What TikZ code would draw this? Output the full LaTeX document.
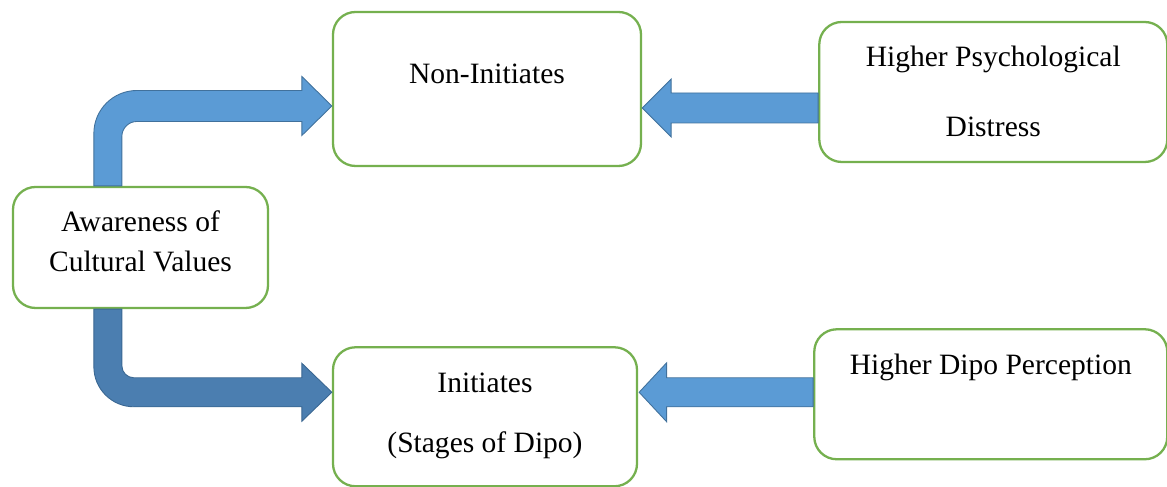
\documentclass[tikz,border=0pt]{standalone}
\usepackage{fontspec}
\setmainfont{Liberation Serif}
\usepackage{xcolor}
\usetikzlibrary{positioning}
\usetikzlibrary{arrows,calc}

\definecolor{boxgreen}{HTML}{75B04F}
\definecolor{arrowblue}{HTML}{5B9BD5}
\definecolor{arrowedge}{HTML}{41719C}
\definecolor{darkblue}{HTML}{4B7EB0}
\definecolor{darkedge}{HTML}{3A6792}

\begin{document}
\begin{tikzpicture}[
auto,
node distance = 3.5cm,
>=stealth',
box/.style={rectangle, rounded corners=0.45cm, draw=boxgreen, line width=1.3pt,
  fill=white, align=center, inner ysep=0.1cm, font=\fontsize{16.8}{20}\selectfont},
fatarrow/.style={fill=arrowblue, draw=arrowedge, line width=0.5pt},
darkarrow/.style={fill=darkblue, draw=darkedge, line width=0.5pt}]
\useasboundingbox (0,0) rectangle (23.34,9.74);

\node [box, minimum width=5.1cm, minimum height=2.42cm, text height=1.28cm, text depth=0.3cm] (aware) at (2.81,4.79)
  {Awareness of\\[0.1cm]Cultural Values};
\node [box, minimum width=6.16cm, minimum height=3.08cm, text height=0.6cm, text depth=0.8cm] (non) at (9.74,7.96)
  {Non-Initiates};
\node [box, minimum width=6.96cm, minimum height=2.8cm, text height=2.1cm, text depth=0.3cm] (distress) [right=3.52cm of non, yshift=-0.06cm]
  {Higher Psychological\\[0.7cm]Distress};
\node [box, minimum width=6.08cm, minimum height=2.78cm, text height=1.72cm, text depth=0.3cm] (init) [below=3.58cm of non, xshift=-0.04cm]
  {Initiates\\[0.5cm](Stages of Dipo)};
\node [box, minimum width=7.06cm, minimum height=2.6cm, text height=0.6cm, text depth=1.4cm] (dipo) [right=3.5cm of init, yshift=0.45cm]
  {Higher Dipo Perception};

% tips of the block arrows
\coordinate (tnon) at ($(non.west)+(0,-0.34)$);
\coordinate (tinit) at ($(init.west)+(0,0.49)$);
\coordinate (tdist) at ($(non.east)+(0,-0.38)$);
\coordinate (tdipo) at ($(init.east)+(0.02,0.49)$);

% bent arrow up to the non-initiates
\draw [fatarrow] ($(aware.north west)+(1.64,0)$) -- ++(0,0.3)
  [rounded corners=0.86cm] |- ($(tnon)+(-1.6,0.31)$)
  [sharp corners] -- ($(tnon)+(-0.6,0.31)$) -- ++(0,0.28) -- (tnon) -- ++(-0.6,-0.59) -- ++(0,0.28) -- ++(-1,0)
  [rounded corners=0.3cm] -| ($(aware.north west)+(2.2,0.3)$)
  [sharp corners] -- ($(aware.north west)+(2.2,0)$) -- cycle;

% bent arrow down to the initiates
\draw [darkarrow] ($(aware.south west)+(1.64,0)$) -- ++(0,-0.3)
  [rounded corners=0.8cm] |- ($(tinit)+(-1.6,-0.29)$)
  [sharp corners] -- ($(tinit)+(-0.6,-0.29)$) -- ++(0,-0.29) -- (tinit) -- ++(-0.6,0.58) -- ++(0,-0.29) -- ++(-1,0)
  [rounded corners=0.24cm] -| ($(aware.south west)+(2.2,-0.3)$)
  [sharp corners] -- ($(aware.south west)+(2.2,0)$) -- cycle;

% straight arrows from the right
\coordinate (d1) at ($(tdist)+(0.58,0.3)$);
\draw [fatarrow] (tdist) -- ++(0.58,0.58) -- (d1) -- (d1 -| distress.west) -- ++(0,-0.6)
  -- ($(tdist)+(0.58,-0.3)$) -- ++(0,-0.28) -- cycle;
\coordinate (d2) at ($(tdipo)+(0.55,0.29)$);
\draw [fatarrow] (tdipo) -- ++(0.55,0.59) -- (d2) -- (d2 -| dipo.west) -- ++(0,-0.58)
  -- ($(tdipo)+(0.55,-0.29)$) -- ++(0,-0.3) -- cycle;
\end{tikzpicture}
\end{document}
